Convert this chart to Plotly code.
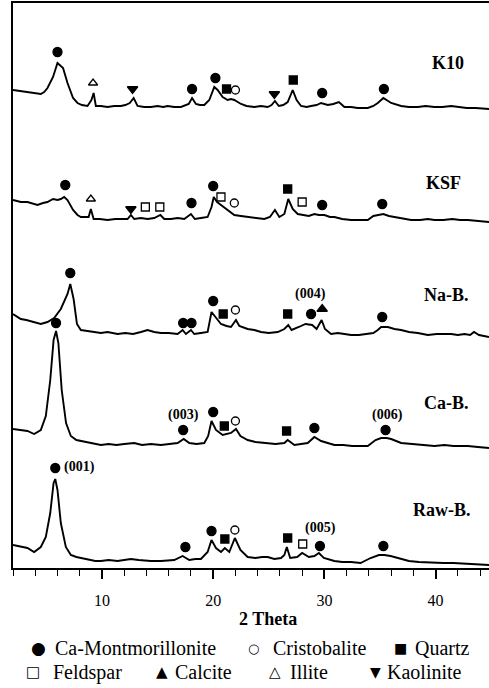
import plotly.graph_objects as go

# ---------------- data (2-theta in degrees, intensity in a.u.) ----------------
samples = ["K10", "KSF", "Na-B.", "Ca-B.", "Raw-B."]
offsets = [458, 346, 231, 120, 3]

theta_k10 = [2.0, 2.6, 3.2, 3.6, 4.1, 4.5, 4.8, 5.1, 5.6, 6.0, 6.5, 6.9, 7.4, 7.8, 8.2, 8.7, 9.05, 9.25, 9.45, 9.9,
             10.5, 11.1, 11.7, 12.1, 12.5, 12.85, 13.2, 13.8, 14.4, 15.0, 15.5, 15.9, 16.5, 17.1, 17.8, 18.1, 18.45,
             18.8, 19.2, 19.65, 20.1, 20.4, 20.85, 21.3, 21.6, 21.9, 22.5, 23.0, 23.7, 24.3, 24.9, 25.25, 25.55, 25.9,
             26.3, 26.7, 27.15, 27.5, 27.9, 28.4, 28.8, 29.3, 29.7, 30.3, 30.8, 31.3, 31.8, 32.4, 33.0, 33.9, 34.4,
             34.8, 35.3, 36.0, 36.9, 37.6, 38.4, 39.1, 39.9, 40.6, 41.4, 42.1, 42.8, 43.6, 44.8]
inten_k10 = [20, 19, 18, 18, 17, 16, 18, 22, 33, 47, 42, 27, 12, 7, 5, 4, 10, 17, 4, 4,
             3, 4, 4, 5, 7, 12, 4, 3, 3, 4, 3, 4, 3, 3, 6, 12, 6,
             5, 5, 10, 23, 20, 13, 10, 11, 10, 6, 4, 3, 4, 3, 5, 9, 4,
             5, 8, 20, 10, 4, 3, 4, 5, 7, 5, 6, 8, 3, 3, 2, 2, 4,
             7, 12, 7, 4, 3, 3, 4, 3, 3, 4, 3, 2, 2, 1]

theta_ksf = [2.0, 2.7, 3.3, 3.8, 4.2, 4.7, 5.1, 5.6, 6.0, 6.3, 6.6, 6.9, 7.4, 7.8, 8.1, 8.8, 9.0, 9.25, 9.8, 10.5,
             11.2, 11.8, 12.3, 12.6, 12.9, 13.5, 14.1, 14.7, 15.25, 15.6, 16.2, 16.8, 17.4, 18.0, 18.35, 18.9, 19.5,
             19.85, 20.05, 20.35, 20.7, 21.3, 21.9, 22.5, 23.1, 23.8, 24.6, 25.1, 25.55, 25.95, 26.4, 26.75, 27.15,
             27.6, 28.2, 28.6, 29.1, 29.5, 30.0, 30.5, 30.9, 31.6, 32.4, 33.1, 33.9, 34.4, 34.8, 35.3, 35.8, 36.3,
             37.0, 37.8, 38.6, 39.3, 39.9, 40.7, 41.5, 42.2, 42.9, 43.7, 44.8]
inten_ksf = [22, 20, 20, 18, 17, 19, 20, 23, 22, 23, 25, 22, 12, 7, 5, 5, 13, 3, 3, 2,
             3, 3, 3, 7, 3, 4, 3, 4, 7, 3, 3, 4, 3, 8, 3, 4, 5,
             15, 25, 20, 17, 12, 7, 6, 5, 4, 3, 5, 12, 5, 8, 23, 13,
             8, 7, 6, 8, 7, 7, 5, 5, 3, 2, 2, 2, 6, 7, 8, 6, 5,
             3, 2, 2, 3, 2, 2, 3, 2, 2, 1, 0]

theta_nab = [2.0, 2.7, 3.2, 3.6, 4.1, 4.5, 5.1, 5.7, 6.3, 6.9, 7.15, 7.45, 7.75, 8.1, 8.7, 9.3, 9.9, 10.5, 11.4,
             12.1, 12.8, 13.5, 14.1, 14.7, 15.3, 16.0, 16.8, 17.25, 17.55, 18.0, 18.3, 18.9, 19.5, 19.85, 20.25,
             20.7, 21.2, 21.6, 22.05, 22.35, 23.1, 23.7, 24.3, 25.0, 25.8, 26.4, 26.75, 27.05, 27.7, 28.3, 28.9,
             29.3, 29.75, 30.05, 30.6, 31.2, 31.8, 32.4, 33.1, 33.9, 34.4, 34.8, 35.1, 35.7, 36.3, 36.9, 37.6,
             38.4, 39.3, 40.1, 40.8, 41.4, 42.0, 42.6, 43.1, 43.45, 43.9, 44.8]
inten_nab = [23, 18, 17, 16, 14, 13, 15, 19, 28, 43, 53, 38, 13, 7, 6, 5, 4, 5, 3,
             4, 3, 5, 7, 5, 4, 4, 3, 7, 3, 7, 3, 4, 5, 25, 19,
             13, 11, 10, 17, 11, 8, 7, 5, 4, 5, 8, 12, 7, 10, 13, 12,
             8, 17, 8, 3, 4, 3, 2, 2, 3, 4, 7, 10, 10, 8, 7, 5,
             4, 2, 3, 3, 3, 2, 3, 2, 5, 2, 0]

theta_cab = [2.0, 2.6, 3.3, 3.9, 4.5, 4.95, 5.35, 5.65, 5.87, 6.08, 6.38, 6.77, 7.2, 7.7, 8.1, 8.8, 9.4, 9.9, 10.6,
             11.3, 12.0, 12.9, 13.6, 14.4, 15.3, 16.1, 16.8, 17.35, 17.85, 18.5, 19.2, 19.55, 19.85, 20.25, 20.85,
             21.6, 22.05, 22.45, 23.1, 23.8, 24.9, 25.6, 26.4, 26.7, 27.3, 27.9, 28.5, 29.1, 29.7, 30.3, 30.9,
             31.7, 32.5, 33.2, 33.9, 34.6, 35.1, 35.6, 36.0, 36.9, 37.7, 38.6, 39.3, 39.9, 40.8, 41.6, 42.3,
             42.9, 43.8, 44.8]
inten_cab = [19, 18, 17, 14, 18, 32, 68, 108, 117, 105, 58, 25, 12, 8, 7, 5, 4, 3, 4,
             3, 4, 5, 3, 4, 3, 4, 5, 9, 5, 4, 5, 12, 27, 18, 13,
             15, 19, 12, 8, 6, 5, 4, 5, 8, 3, 4, 5, 11, 7, 5, 3,
             3, 2, 2, 2, 8, 10, 10, 9, 5, 4, 3, 2, 2, 3, 2, 2,
             2, 1, 0]

theta_raw = [2.0, 2.7, 3.3, 3.9, 4.5, 4.95, 5.35, 5.65, 5.8, 6.0, 6.3, 6.75, 7.2, 7.7, 8.1, 8.8, 9.4, 9.9, 10.6,
             11.4, 12.0, 12.6, 13.3, 14.4, 15.3, 16.0, 16.5, 17.25, 17.85, 18.4, 18.9, 19.5, 19.85, 20.25, 20.7,
             21.05, 21.45, 21.95, 22.45, 23.1, 23.8, 24.4, 24.9, 25.5, 26.1, 26.4, 26.62, 26.92, 27.55, 28.0,
             28.6, 29.1, 29.5, 29.95, 30.9, 31.6, 32.4, 33.25, 34.15, 34.9, 35.4, 35.95, 36.85, 37.6, 38.5,
             39.8, 40.7, 41.6, 42.8, 43.7, 44.8]
inten_raw = [20, 18, 17, 13, 18, 28, 52, 82, 86, 75, 42, 18, 10, 8, 7, 5, 4, 4, 5,
             4, 5, 6, 5, 4, 4, 5, 5, 9, 5, 6, 6, 13, 25, 17, 13,
             17, 13, 27, 15, 8, 7, 8, 8, 6, 7, 10, 18, 7, 8, 12,
             8, 9, 12, 7, 4, 3, 3, 2, 7, 10, 10, 9, 6, 4, 3,
             2, 2, 2, 1, 1, 0]

thetas = [theta_k10, theta_ksf, theta_nab, theta_cab, theta_raw]
intens = [inten_k10, inten_ksf, inten_nab, inten_cab, inten_raw]

# phase identification marks: (phase, 2-theta, height above sample baseline)
marks_k10 = [("Ca-Montmorillonite", 6.0, 58), ("Illite", 9.2, 27), ("Kaolinite", 12.75, 21),
             ("Ca-Montmorillonite", 18.1, 21), ("Ca-Montmorillonite", 20.2, 32), ("Quartz", 21.2, 21),
             ("Cristobalite", 22.0, 20), ("Kaolinite", 25.5, 16), ("Quartz", 27.2, 30),
             ("Ca-Montmorillonite", 29.8, 17), ("Ca-Montmorillonite", 35.35, 21)]
marks_ksf = [("Ca-Montmorillonite", 6.7, 37), ("Illite", 9.0, 23), ("Kaolinite", 12.6, 13),
             ("Feldspar", 13.9, 15), ("Feldspar", 15.2, 15), ("Ca-Montmorillonite", 18.05, 19),
             ("Ca-Montmorillonite", 20.0, 36), ("Feldspar", 20.7, 25), ("Cristobalite", 21.9, 19),
             ("Quartz", 26.7, 33), ("Feldspar", 28.0, 20), ("Ca-Montmorillonite", 29.8, 17),
             ("Ca-Montmorillonite", 35.2, 18)]
marks_nab = [("Ca-Montmorillonite", 7.15, 64), ("Ca-Montmorillonite", 17.3, 14), ("Ca-Montmorillonite", 18.05, 14),
             ("Ca-Montmorillonite", 20.0, 36), ("Quartz", 20.9, 23), ("Cristobalite", 22.0, 27),
             ("Quartz", 26.7, 23), ("Ca-Montmorillonite", 28.8, 23), ("Calcite", 29.8, 28),
             ("Ca-Montmorillonite", 35.2, 20)]
marks_cab = [("Ca-Montmorillonite", 5.87, 125), ("Ca-Montmorillonite", 17.3, 18), ("Ca-Montmorillonite", 20.0, 36),
             ("Quartz", 21.0, 22), ("Cristobalite", 22.0, 27), ("Quartz", 26.6, 17),
             ("Ca-Montmorillonite", 29.1, 20), ("Ca-Montmorillonite", 35.5, 18)]
marks_raw = [("Ca-Montmorillonite", 5.8, 97), ("Ca-Montmorillonite", 17.5, 18), ("Ca-Montmorillonite", 19.85, 34),
             ("Quartz", 21.05, 26), ("Cristobalite", 21.95, 35), ("Quartz", 26.7, 27),
             ("Feldspar", 28.05, 21), ("Ca-Montmorillonite", 29.6, 19), ("Ca-Montmorillonite", 35.3, 19)]
marks = [marks_k10, marks_ksf, marks_nab, marks_cab, marks_raw]

# reflection indices: (sample index, label, 2-theta, height above baseline)
hkl_labels = [(4, "(001)", 6.45, 98), (3, "(003)", 17.36, 33), (2, "(004)", 28.77, 43),
              (4, "(005)", 29.67, 37), (3, "(006)", 35.7, 33)]

phases = ["Ca-Montmorillonite", "Cristobalite", "Quartz", "Feldspar", "Calcite", "Illite", "Kaolinite"]
phase_glyphs = ["●", "○", "■", "□", "▲", "△", "▼"]

# ---------------- styles ----------------
SERIF = "Liberation Serif, Times New Roman, serif"
symbol_style = {
    "Ca-Montmorillonite": dict(symbol="circle", size=9),
    "Cristobalite": dict(symbol="circle-open", size=8),
    "Quartz": dict(symbol="square", size=8),
    "Feldspar": dict(symbol="square-open", size=8),
    "Calcite": dict(symbol="triangle-up", size=9),
    "Illite": dict(symbol="triangle-up-open", size=8),
    "Kaolinite": dict(symbol="triangle-down", size=9),
}

fig = go.Figure()

for th, it, off in zip(thetas, intens, offsets):
    n = min(len(th), len(it))
    fig.add_trace(go.Scatter(x=th[:n], y=[v + off for v in it[:n]], mode="lines",
                             line=dict(color="black", width=1.9, shape="linear"),
                             showlegend=False, hoverinfo="skip"))

for ph in phases:
    xs, ys = [], []
    for mk, off in zip(marks, offsets):
        for p, t, h in mk:
            if p == ph:
                xs.append(t)
                ys.append(h + off)
    st = symbol_style[ph]
    fig.add_trace(go.Scatter(x=xs, y=ys, mode="markers", cliponaxis=False, showlegend=False,
                             marker=dict(symbol=st["symbol"], size=st["size"], color="black",
                                         line=dict(color="black", width=1.3)),
                             hoverinfo="skip"))

annotations = []
# sample names (right aligned), positions in data coords
label_pos = [(42.7, 505), (42.5, 385), (43.2, 273), (43.2, 165), (43.4, 58)]
for name, (lx, ly) in zip(samples, label_pos):
    annotations.append(dict(x=lx, y=ly, xref="x", yref="y", text="<b>%s</b>" % name, showarrow=False,
                            xanchor="right", yanchor="middle", font=dict(family=SERIF, size=18, color="black")))

for si, txt, t, h in hkl_labels:
    anchor = "left" if txt == "(001)" else "center"
    annotations.append(dict(x=t, y=h + offsets[si], xref="x", yref="y", text="<b>%s</b>" % txt,
                            showarrow=False, xanchor=anchor, yanchor="middle",
                            font=dict(family=SERIF, size=14, color="black")))

W, H = 489, 688
L, R, T, B = 13, 0, 3, 120
pw, ph_ = W - L - R, H - T - B


def px2paper(px, py):
    return (px - L) / pw, (H - B - py) / ph_


# axis title
ax, ay = px2paper(268, 619)
annotations.append(dict(x=ax, y=ay, xref="paper", yref="paper", text="<b>2 Theta</b>", showarrow=False,
                        xanchor="center", yanchor="middle", font=dict(family=SERIF, size=18, color="black")))

# legend (two text rows)
legend_layout = [(38, 648, 53), (253, 648, 271), (400, 648, 413),
                 (33, 672, 51), (162, 672, 173), (275, 672, 288), (375, 672, 385)]
glyph_sizes = [17, 13, 14, 15, 15, 15, 14]
for (gx, gy, tx), ph, gl, gs in zip(legend_layout, phases, phase_glyphs, glyph_sizes):
    x1, y1 = px2paper(gx, gy)
    annotations.append(dict(x=x1, y=y1, xref="paper", yref="paper", text=gl, showarrow=False,
                            xanchor="center", yanchor="middle",
                            font=dict(family="DejaVu Sans", size=gs, color="black")))
    x2, y2 = px2paper(tx, gy)
    annotations.append(dict(x=x2, y=y2, xref="paper", yref="paper", text=ph, showarrow=False,
                            xanchor="left", yanchor="middle",
                            font=dict(family=SERIF, size=20, color="black")))

fig.update_layout(
    width=W, height=H, margin=dict(l=L, r=R, t=T, b=B),
    paper_bgcolor="white", plot_bgcolor="white", showlegend=False,
    annotations=annotations,
    xaxis=dict(range=[2, 44.8], showline=True, linecolor="black", linewidth=1.5, mirror=True,
               ticks="outside", tickvals=[10, 20, 30, 40], ticktext=["10", "20", "30", "40"],
               ticklen=9, tickwidth=1.5, tickcolor="black",
               minor=dict(ticks="outside", tick0=0, dtick=2, ticklen=6, tickwidth=1.3, tickcolor="black"),
               showgrid=False, zeroline=False, ticklabelstandoff=8,
               tickfont=dict(family=SERIF, size=16, color="black")),
    yaxis=dict(range=[0, 565], showline=True, linecolor="black", linewidth=1.5, mirror=False,
               showticklabels=False, ticks="", showgrid=False, zeroline=False),
)

fig.write_html("out.html", config={"displayModeBar": False},
               post_script="document.body.style.margin='0';")
